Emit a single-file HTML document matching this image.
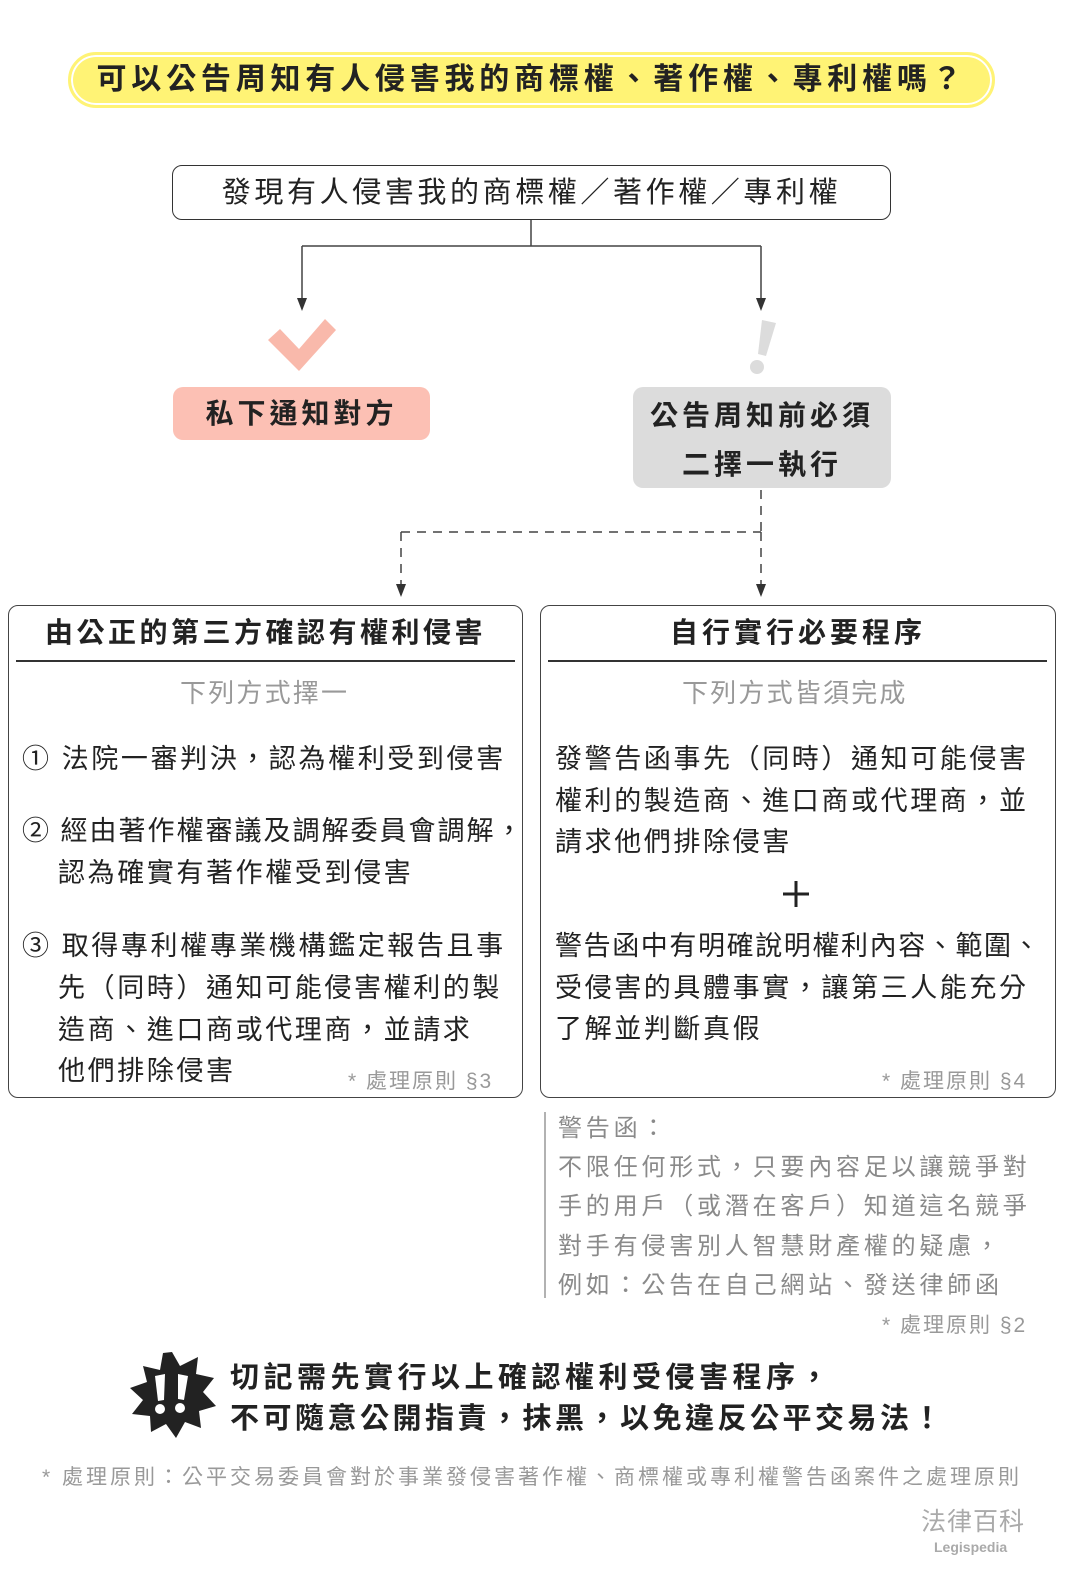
<!DOCTYPE html>
<html><head><meta charset="utf-8"><style>
body{margin:0;width:1065px;height:1570px;background:#fff;position:relative;overflow:hidden;font-family:"Liberation Sans","Noto Sans CJK TC",sans-serif;color:#222}
.a{position:absolute;white-space:nowrap;line-height:1}
.box{position:absolute;box-sizing:border-box}
.t{font-size:27px;letter-spacing:2.6px;color:#222}
.g{font-size:24px;letter-spacing:3.8px;color:#8a8a8a}
</style></head><body>
<div class="box" style="left:68px;top:52px;width:927px;height:56px;border-radius:28px;background:#fff375;border:3px solid #fff375;box-shadow:inset 0 0 0 2px #fff,inset 0 0 0 5px #fff375"></div>
<div class="a" style="left:68px;width:927px;text-align:center;top:65px;font-size:30px;font-weight:bold;letter-spacing:4.8px">可以公告周知有人侵害我的商標權、著作權、專利權嗎？</div>

<div class="box" style="left:172px;top:165px;width:719px;height:55px;border:1.5px solid #333;border-radius:10px"></div>
<div class="a" style="left:172px;width:719px;text-align:center;top:179px;font-size:29px;letter-spacing:3.6px">發現有人侵害我的商標權／著作權／專利權</div>

<svg class="a" style="left:0;top:0" width="1065" height="1570">
<g stroke="#444" stroke-width="1.5" fill="none">
<path d="M531 220V246M302 246H761M302 246V302M761 246V302"/>
<path d="M761 490V532M401 532H761M401 532V588M761 532V588" stroke-dasharray="9 7"/>
</g>
<g fill="#333">
<polygon points="297,298 307,298 302,311"/>
<polygon points="756,298 766,298 761,311"/>
<polygon points="396,584 406,584 401,597"/>
<polygon points="756,584 766,584 761,597"/>
</g>
<polygon points="268,340 280,329 299,349 325,319 336,330 299,371" fill="#f9b9ab"/>
<polygon points="762,320 776,323 766,356 758,354" fill="#dcdcdc"/>
<circle cx="757" cy="367" r="7" fill="#dcdcdc"/>
<line x1="545" y1="1112" x2="545" y2="1298" stroke="#999" stroke-width="1.5"/>
<polygon fill="#222" points="172,1352 180,1366 198,1357 196,1374 214,1378 203,1392 216,1406 199,1411 201,1428 185,1422 176,1438 166,1424 151,1432 150,1416 132,1414 143,1400 130,1388 147,1382 143,1366 160,1370 163,1353"/>
<g fill="#fff"><polygon points="155,1376 165,1374 164,1400 158,1401"/><circle cx="160" cy="1409" r="5"/>
<polygon points="178,1374 188,1376 184,1400 178,1399"/><circle cx="180" cy="1408" r="5"/></g>
<path d="M796 881V907M783 894H809" stroke="#222" stroke-width="3"/>
</svg>

<div class="box" style="left:173px;top:387px;width:257px;height:53px;background:#fcc0b4;border-radius:10px"></div>
<div class="a" style="left:173px;width:257px;text-align:center;top:400px;font-size:28px;font-weight:bold;letter-spacing:4px">私下通知對方</div>
<div class="box" style="left:633px;top:387px;width:258px;height:101px;background:#dcdcdc;border-radius:10px"></div>
<div class="a" style="left:633px;width:258px;text-align:center;top:391px;font-size:28px;font-weight:bold;letter-spacing:4px;line-height:49px">公告周知前必須<br>二擇一執行</div>

<div class="box" style="left:8px;top:605px;width:515px;height:493px;border:1.5px solid #444;border-radius:10px"></div>
<div class="box" style="left:540px;top:605px;width:516px;height:493px;border:1.5px solid #444;border-radius:10px"></div>
<div class="box" style="left:16px;top:660px;width:499px;height:1.5px;background:#333"></div>
<div class="box" style="left:548px;top:660px;width:499px;height:1.5px;background:#333"></div>
<div class="a" style="left:8px;width:515px;text-align:center;top:619px;font-size:28px;font-weight:bold;letter-spacing:3.5px">由公正的第三方確認有權利侵害</div>
<div class="a" style="left:540px;width:516px;text-align:center;top:619px;font-size:28px;font-weight:bold;letter-spacing:4px">自行實行必要程序</div>
<div class="a" style="left:180px;top:680px;font-size:26px;letter-spacing:2.2px;color:#999">下列方式擇一</div>
<div class="a" style="left:682px;top:680px;font-size:26px;letter-spacing:2.2px;color:#999">下列方式皆須完成</div>

<div class="a t" style="left:22px;top:746px">①&nbsp;法院一審判決，認為權利受到侵害</div>
<div class="a t" style="left:22px;top:818px;letter-spacing:2px">②&nbsp;經由著作權審議及調解委員會調解，</div>
<div class="a t" style="left:58px;top:860px">認為確實有著作權受到侵害</div>
<div class="a t" style="left:22px;top:933px">③&nbsp;取得專利權專業機構鑑定報告且事</div>
<div class="a t" style="left:58px;top:975px">先（同時）通知可能侵害權利的製</div>
<div class="a t" style="left:58px;top:1017px">造商、進口商或代理商，並請求</div>
<div class="a t" style="left:58px;top:1058px">他們排除侵害</div>
<div class="a" style="left:348px;top:1071px;font-size:21px;letter-spacing:2px;color:#999">* 處理原則 §3</div>

<div class="a t" style="left:555px;top:746px">發警告函事先（同時）通知可能侵害</div>
<div class="a t" style="left:555px;top:788px">權利的製造商、進口商或代理商，並</div>
<div class="a t" style="left:555px;top:829px">請求他們排除侵害</div>
<div class="a t" style="left:555px;top:933px;letter-spacing:1.6px">警告函中有明確說明權利內容、範圍、</div>
<div class="a t" style="left:555px;top:975px">受侵害的具體事實，讓第三人能充分</div>
<div class="a t" style="left:555px;top:1016px">了解並判斷真假</div>
<div class="a" style="left:882px;top:1071px;font-size:21px;letter-spacing:2px;color:#999">* 處理原則 §4</div>

<div class="a g" style="left:558px;top:1117px">警告函：</div>
<div class="a g" style="left:558px;top:1156px">不限任何形式，只要內容足以讓競爭對</div>
<div class="a g" style="left:558px;top:1195px">手的用戶（或潛在客戶）知道這名競爭</div>
<div class="a g" style="left:558px;top:1235px">對手有侵害別人智慧財產權的疑慮，</div>
<div class="a g" style="left:558px;top:1274px">例如：公告在自己網站、發送律師函</div>
<div class="a" style="left:882px;top:1315px;font-size:21px;letter-spacing:2px;color:#999">* 處理原則 §2</div>

<div class="a" style="left:230px;top:1364px;font-size:29px;font-weight:bold;letter-spacing:4.5px">切記需先實行以上確認權利受侵害程序，</div>
<div class="a" style="left:230px;top:1405px;font-size:29px;font-weight:bold;letter-spacing:3.5px">不可隨意公開指責，抹黑，以免違反公平交易法！</div>

<div class="a" style="left:42px;top:1467px;font-size:21px;letter-spacing:3px;color:#999">* 處理原則：公平交易委員會對於事業發侵害著作權、商標權或專利權警告函案件之處理原則</div>
<div class="a" style="left:921px;top:1510px;font-size:25px;color:#aaa;letter-spacing:1px">法律百科</div>
<div class="a" style="left:934px;top:1540px;font-size:14px;font-weight:bold;color:#aaa">Legispedia</div>
</body></html>
